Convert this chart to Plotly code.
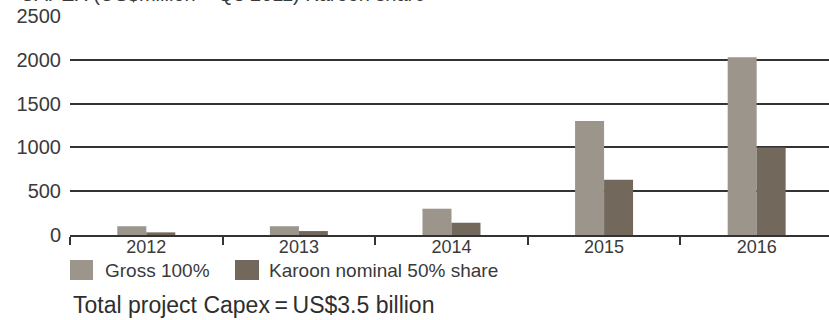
import plotly.graph_objects as go

years = ["2012", "2013", "2014", "2015", "2016"]
gross = [100, 100, 300, 1300, 2030]
karoon = [30, 45, 140, 630, 1000]
series_names = ["Gross 100%", "Karoon nominal 50% share"]
y_ticks = [0, 500, 1000, 1500, 2000, 2500]
title_text = "CAPEX (US$million \u2013 Q3 2011) Karoon share"
footer_text = "Total project Capex\u2009=\u2009US$3.5 billion"

c_gross = "#9b958b"
c_karoon = "#73685c"
txt = "#3a3a3a"
font_family = "Liberation Sans, Arial, sans-serif"

fig = go.Figure()
fig.add_trace(go.Bar(x=years, y=gross, name=series_names[0], marker_color=c_gross,
                     marker_line_width=0, showlegend=False))
fig.add_trace(go.Bar(x=years, y=karoon, name=series_names[1], marker_color=c_karoon,
                     marker_line_width=0, showlegend=False))

fig.update_layout(
    width=829, height=320,
    margin=dict(l=70, r=0, t=16, b=85),
    paper_bgcolor="white", plot_bgcolor="white",
    barmode="group", bargap=0.62, bargroupgap=0,
    font=dict(family=font_family, color=txt, size=19),
    xaxis=dict(
        type="category", range=[-0.5, 4.474],
        showline=True, linecolor="#333333", linewidth=2,
        ticks="outside", tickson="boundaries", ticklen=8, tickwidth=2, tickcolor="#333333",
        showgrid=False, tickfont=dict(size=18, color=txt), ticklabelstandoff=-6,
    ),
    yaxis=dict(
        range=[0, 2500], tickvals=y_ticks,
        showgrid=True, gridcolor="#333333", gridwidth=2,
        zeroline=False, showline=False, ticks="",
        ticklabelstandoff=8, tickfont=dict(size=20, color=txt),
    ),
)

# title (cropped at the top in the reference)
fig.add_annotation(text=title_text, xref="paper", yref="paper", x=0, y=1,
                   xanchor="left", yanchor="middle", xshift=-52, yshift=22,
                   showarrow=False, font=dict(size=20, color=txt))

# custom legend
leg = [(70, 93, 103, series_names[0], c_gross), (235, 259, 267, series_names[1], c_karoon)]
for x0, x1, xt, name, col in leg:
    fig.add_shape(type="rect", xref="paper", yref="paper",
                  x0=(x0 - 70) / 759, x1=(x1 - 70) / 759,
                  y0=-(280 - 235) / 219, y1=-(260 - 235) / 219,
                  fillcolor=col, line_width=0)
    fig.add_annotation(text=name, xref="paper", yref="paper",
                       x=(xt - 70) / 759, y=-(270 - 235) / 219,
                       xanchor="left", yanchor="middle", showarrow=False,
                       font=dict(size=19, color=txt))

fig.add_annotation(text=footer_text, xref="paper", yref="paper",
                   x=(71 - 70) / 759, y=-(305 - 235) / 219,
                   xanchor="left", yanchor="middle", showarrow=False,
                   font=dict(size=23, color="#2e2e2e"))

fig.write_html("out.html")
